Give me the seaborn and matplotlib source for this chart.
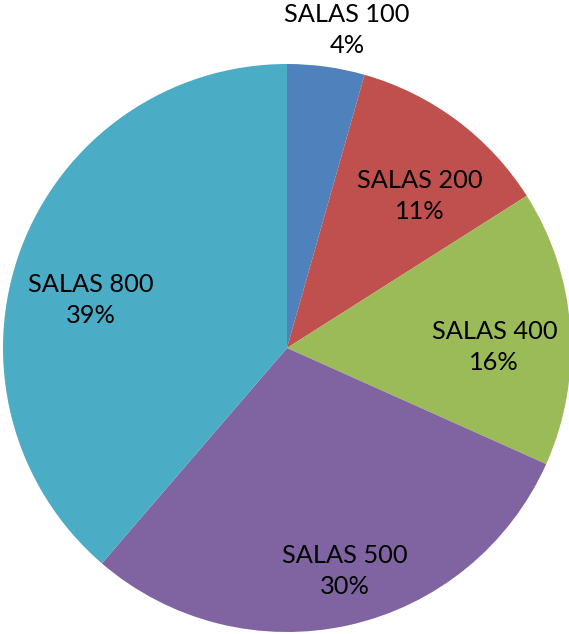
import numpy as np
import matplotlib
matplotlib.use("Agg")
import matplotlib.pyplot as plt
import seaborn as sns

categories = ["SALAS 100", "SALAS 200", "SALAS 400", "SALAS 500", "SALAS 800"]
values = [4.4, 11.6, 15.7, 29.6, 38.7]
pct_labels = ["4%", "11%", "16%", "30%", "39%"]
colors = ["#4F81BD", "#C0504D", "#9BBB59", "#8064A2", "#4BACC6"]

sns.set_theme(style="white")
plt.rcParams['font.family'] = ['Lato', 'DejaVu Sans']

W, H = 569, 634
fig = plt.figure(figsize=(W / 100, H / 100), dpi=100)
ax = fig.add_axes([0, 0, 1, 1])

wedges, _ = ax.pie(values, colors=colors, startangle=90, counterclock=False,
                   radius=1.0, wedgeprops=dict(linewidth=0))

cx, cy, r = 287.0, 348.0, 284.0
ax.set_aspect('auto')
ax.set_xlim(-cx / r, (W - cx) / r)
ax.set_ylim(-(H - cy) / r, cy / r)
ax.axis('off')

# label placement: radial distance and angle offset (deg, clockwise)
dist = [1.14, 0.71, 0.73, 0.81, 0.71]
dang = [2.8, 4.3, 3.8, -1.9, -6.6]
for w, cat, p, d, da in zip(wedges, categories, pct_labels, dist, dang):
    mid = np.deg2rad((w.theta1 + w.theta2) / 2 - da)
    ax.text(d * np.cos(mid), d * np.sin(mid), f"{cat}\n{p}",
            ha='center', va='center', fontsize=18.3, color='black',
            linespacing=1.42)

fig.savefig("out.png", dpi=100, facecolor='white')
